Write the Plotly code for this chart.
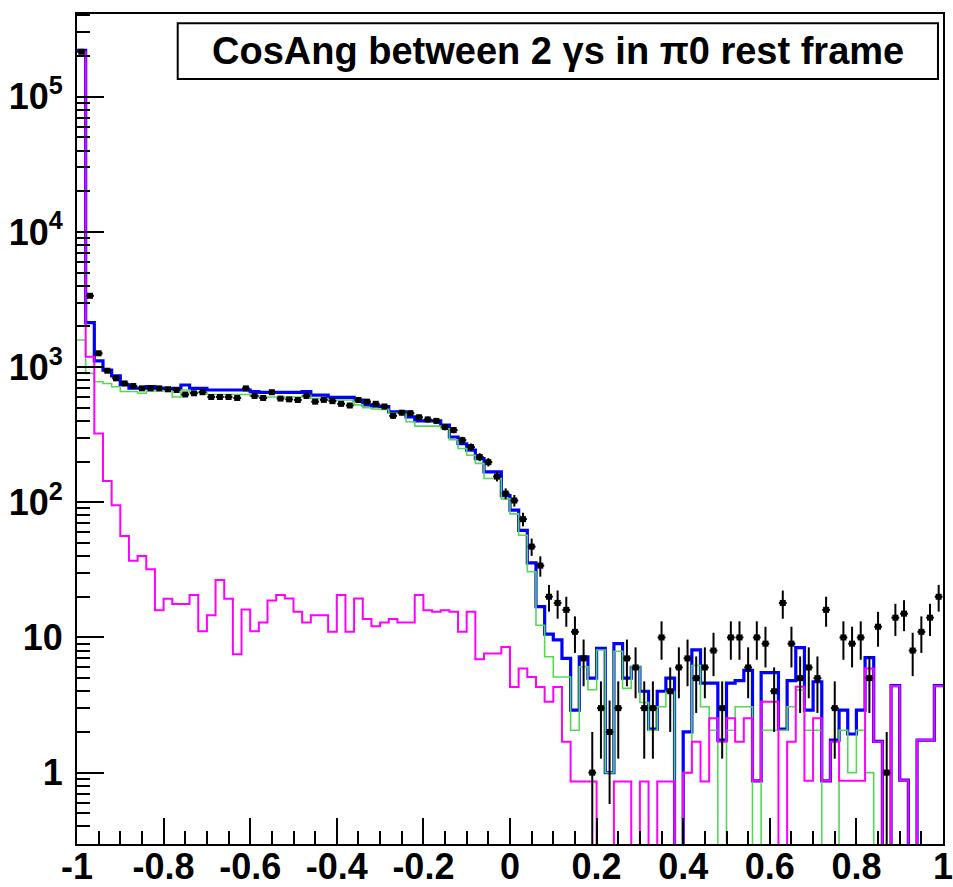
import numpy as np
import plotly.graph_objects as go

# 100 bins of cos(angle) between the two photons, from -1 to 1
N_BINS = 100
X_LO, X_HI = -1.0, 1.0

# Observed counts per bin
data_counts = [
    215000, 3370, 1265, 940, 826, 757, 724, 696, 696, 696,
    685, 677, 627, 640, 652, 601, 601, 601, 591, 696,
    612, 591, 652, 585, 577, 571, 612, 555, 572, 560,
    535, 520, 571, 555, 535, 511, 436, 460, 456, 425,
    410, 400, 360, 342, 288, 256, 216, 198, 155, 116,
    103, 75, 47, 34, 20, 18, 16, 11, 7, 1,
    3, 2, 3, 7, 6, 3, 3, 10, 4, 6,
    7, 5, 6, 8, 3, 10, 10, 6, 10, 9,
    4, 18, 9, 5, 6, 5, 16, 3, 10, 9,
    10, 5, 12, 1, 14, 15, 8, 11, 14, 20,
]

# Total simulation (blue)
total_mc = [
    220000, 2130, 1110, 950, 860, 740, 700, 700, 716, 700,
    696, 696, 737, 696, 696, 677, 677, 677, 677, 677,
    659, 650, 650, 650, 650, 650, 659, 621, 621, 597,
    597, 597, 570, 525, 515, 511, 466, 466, 428, 400,
    400, 400, 372, 304, 271, 243, 210, 168, 168, 112,
    87.5, 62, 35.6, 16.9, 10.6, 9.6, 7.0, 2.9, 7.2, 5.0,
    8.3, 1.0, 9.0, 5.0, 6.0, 4.0, 2.1, 4.0, 5.0, 0,
    2.0, 8.1, 4.6, 4.6, 1.74, 4.6, 4.8, 5.7, 0.87, 5.5,
    5.5, 2.1, 4.8, 8.4, 2.9, 4.7, 0.87, 1.74, 2.9, 1.93,
    2.9, 7.1, 1.7, 0, 4.4, 0.88, 0, 1.74, 1.74, 4.4,
]

# True pi0 component (green)
signal_mc = [
    1585, 899, 779, 757, 716, 659, 659, 640, 666, 666,
    666, 601, 677, 652, 652, 627, 627, 627, 627, 627,
    612, 601, 601, 601, 601, 601, 617, 585, 585, 571,
    571, 571, 525, 500, 490, 487, 456, 456, 394, 366,
    366, 366, 350, 290, 250, 223, 194, 150, 150, 106,
    82, 57, 30.6, 12.3, 7.2, 5.1, 5.1, 2.06, 6.07, 4.1,
    8.07, 1.0, 7.9, 4.2, 6.07, 3.3, 2.06, 3.07, 4.0, 0,
    1.0, 6.2, 3.07, 2.06, 0, 2.06, 3.07, 3.07, 0, 2.06,
    2.06, 2.06, 3.07, 4.08, 2.06, 2.06, 0, 0, 2.06, 1.0,
    2.06, 1.0, 0, 0, 0, 0, 0, 0, 0, 0,
]

# Combinatorial background component (magenta)
background_mc = [
    215000, 1194, 323, 143.5, 94.9, 56.2, 36.9, 40.0, 31.9, 15.9,
    19.3, 17.7, 17.7, 20.6, 11.1, 14.6, 26.6, 19.3, 7.5, 16.1,
    11.1, 12.9, 18.8, 20.6, 19.4, 15.5, 12.9, 14.6, 14.6, 11.0,
    20.6, 11.0, 19.4, 13.7, 12.1, 12.9, 13.7, 12.9, 12.9, 20.6,
    15.9, 15.5, 15.9, 15.5, 11.0, 15.5, 6.9, 7.6, 7.6, 8.5,
    4.3, 5.9, 5.1, 4.3, 3.34, 4.3, 1.69, 0.86, 0.86, 0.86,
    0, 0, 0.86, 0.86, 0, 0.86, 0, 0.86, 0.86, 0,
    1.0, 1.69, 0.86, 2.52, 1.69, 2.52, 1.69, 2.52, 0.87, 3.34,
    3.34, 0, 1.69, 4.32, 0.87, 2.52, 0.87, 1.69, 0.87, 0.87,
    0.87, 5.9, 1.69, 0, 4.37, 0.88, 0, 1.74, 1.74, 4.37,
]

x_tick_vals = [-1, -0.8, -0.6, -0.4, -0.2, 0, 0.2, 0.4, 0.6, 0.8, 1]
x_tick_text = ["-1", "-0.8", "-0.6", "-0.4", "-0.2", "0", "0.2", "0.4", "0.6", "0.8", "1"]
y_tick_vals = [1, 10, 100, 1e3, 1e4, 1e5]
y_tick_text = ["1", "10", "10<sup>2</sup>", "10<sup>3</sup>", "10<sup>4</sup>", "10<sup>5</sup>"]

title_text = "CosAng between 2 \u03b3s in \u03c00 rest frame"

# Empty bins are pushed below the visible log range so the outline drops to the frame
LOG_FLOOR = 1e-3

edges = np.linspace(X_LO, X_HI, N_BINS + 1)
centers = 0.5 * (edges[:-1] + edges[1:])
half_width = 0.5 * (edges[1] - edges[0])


def step_xy(values):
    v = np.asarray(values, dtype=float)
    v = np.where(v > 0, v, LOG_FLOOR)
    return edges, np.append(v, v[-1])


fig = go.Figure()

for vals, color, width in [
    (total_mc, "#0000ff", 3.2),
    (signal_mc, "#55d855", 1.6),
    (background_mc, "#ff00ff", 2.0),
]:
    xs, ys = step_xy(vals)
    fig.add_trace(go.Scatter(
        x=xs, y=ys, mode="lines", line_shape="hv",
        line=dict(color=color, width=width), hoverinfo="skip",
    ))

n = np.asarray(data_counts, dtype=float)
err = np.sqrt(n)
err_lo = np.minimum(err, n - LOG_FLOOR)
fig.add_trace(go.Scatter(
    x=centers, y=n, mode="markers",
    marker=dict(symbol="square", size=6, color="black"),
    error_y=dict(type="data", array=err, arrayminus=err_lo, symmetric=False,
                 color="black", thickness=2, width=0),
    error_x=dict(type="constant", value=half_width * 0.9, color="black",
                 thickness=2, width=0),
))

# log-axis minor ticks at 2..9 x 10^k
y_minor = [m * 10.0 ** k for k in range(-1, 6) for m in range(2, 10)]
x_minor = list(np.round(np.arange(X_LO, X_HI + 1e-9, 0.05), 3))

tick_font = dict(family="Liberation Sans, Arial, sans-serif", size=36, color="black", weight="bold")

fig.update_layout(
    width=953, height=887,
    margin=dict(l=77, r=10, t=14, b=43, autoexpand=False),
    paper_bgcolor="white", plot_bgcolor="white",
    showlegend=False,
    xaxis=dict(
        range=[X_LO, X_HI], tickmode="array", tickvals=x_tick_vals, ticktext=x_tick_text,
        ticks="inside", ticklen=26, tickwidth=2, tickcolor="black",
        showline=True, linewidth=2, linecolor="black", mirror=True, automargin=False,
        showgrid=False, zeroline=False, tickfont=tick_font, ticklabelstandoff=-10,
        ticklabeloverflow="allow",
        minor=dict(tickvals=x_minor, ticks="inside", ticklen=13, tickwidth=2, tickcolor="black"),
    ),
    yaxis=dict(
        type="log", range=[-0.528, 5.612], tickmode="array",
        tickvals=y_tick_vals, ticktext=y_tick_text,
        ticks="inside", ticklen=27, tickwidth=2, tickcolor="black",
        showline=True, linewidth=2, linecolor="black", mirror=True, automargin=False,
        showgrid=False, zeroline=False, tickfont=tick_font, ticklabelstandoff=5,
        ticklabeloverflow="allow",
        minor=dict(tickvals=y_minor, ticks="inside", ticklen=13, tickwidth=2, tickcolor="black"),
    ),
)

# Title pave
fig.add_shape(type="rect", xref="paper", yref="paper",
              x0=0.1163, x1=0.9942, y0=0.9217, y1=0.9888,
              line=dict(color="black", width=2), fillcolor="white", layer="above")
fig.add_annotation(xref="paper", yref="paper", x=0.555, y=0.9552,
                   xanchor="center", yanchor="middle",
                   text=title_text, showarrow=False,
                   font=dict(family="Liberation Sans, Arial, sans-serif", size=38,
                             color="black", weight="bold"))

fig.write_html("out.html")
